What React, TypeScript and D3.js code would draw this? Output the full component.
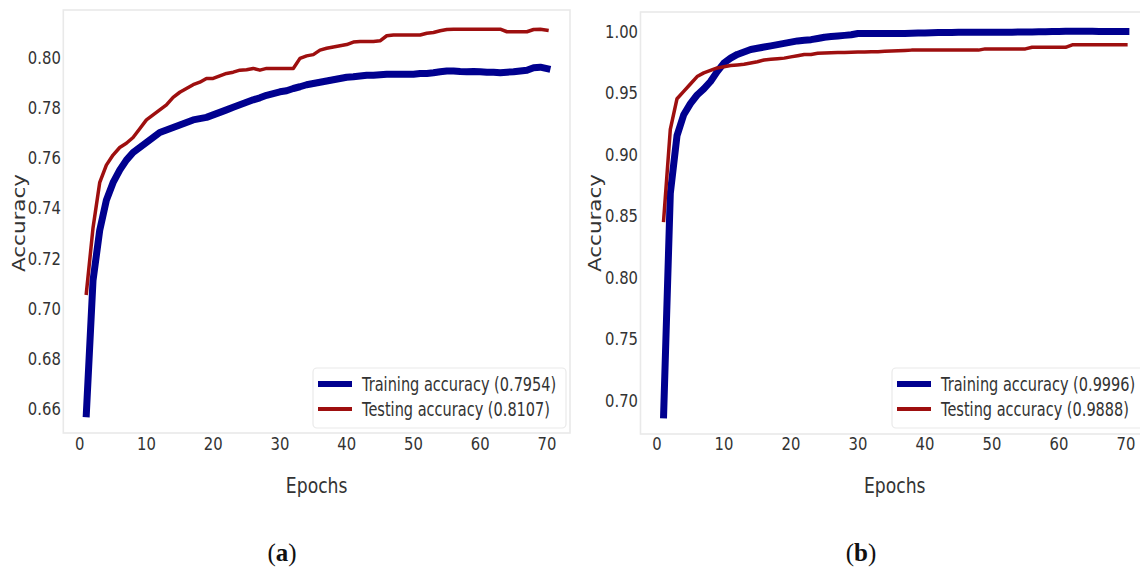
import React from "react";
import * as d3 from "d3";

// ---------- data ----------
const EPOCHS: number[] = d3.range(1, 71);

const TRAIN_A = [
  0.658, 0.711, 0.731, 0.743, 0.750, 0.755, 0.759, 0.762, 0.764, 0.766,
  0.768, 0.770, 0.771, 0.772, 0.773, 0.774, 0.775, 0.7755, 0.776, 0.777,
  0.778, 0.779, 0.780, 0.781, 0.782, 0.783, 0.7838, 0.7848, 0.7855, 0.7862,
  0.7866, 0.7875, 0.7882, 0.789, 0.7895, 0.790, 0.7905, 0.791, 0.7915, 0.792,
  0.7922, 0.7925, 0.7928, 0.7928, 0.793, 0.7932, 0.7932, 0.7932, 0.7932, 0.7932,
  0.7935, 0.7935, 0.7938, 0.7942, 0.7945, 0.7945, 0.7943, 0.7942, 0.7943, 0.7942,
  0.794, 0.794, 0.7938, 0.794, 0.7942, 0.7945, 0.7948, 0.7958, 0.796, 0.7954,
];

const TEST_A = [
  0.706, 0.732, 0.750, 0.757, 0.761, 0.764, 0.7657, 0.768, 0.7715, 0.775,
  0.777, 0.779, 0.781, 0.784, 0.786, 0.7875, 0.789, 0.790, 0.7915, 0.7915,
  0.7925, 0.7935, 0.794, 0.7948, 0.795, 0.7955, 0.7948, 0.7955, 0.7955, 0.7955,
  0.7955, 0.7955, 0.7995, 0.8005, 0.801, 0.8028, 0.8035, 0.804, 0.8045, 0.805,
  0.806, 0.8062, 0.8062, 0.8062, 0.8065, 0.8085, 0.8088, 0.8088, 0.8088, 0.8088,
  0.8088, 0.8095, 0.8098, 0.8105, 0.811, 0.8111, 0.8111, 0.8111, 0.8111, 0.8111,
  0.8111, 0.8111, 0.8111, 0.8101, 0.8101, 0.8101, 0.8101, 0.811, 0.8111, 0.8107,
];

const TRAIN_B = [
  0.688, 0.868, 0.915, 0.932, 0.941, 0.948, 0.953, 0.959, 0.967, 0.974,
  0.978, 0.981, 0.983, 0.985, 0.986, 0.987, 0.988, 0.989, 0.990, 0.991,
  0.992, 0.9925, 0.993, 0.994, 0.995, 0.9955, 0.996, 0.9965, 0.997, 0.998,
  0.998, 0.998, 0.998, 0.998, 0.998, 0.998, 0.998, 0.9982, 0.9985, 0.9985,
  0.9987, 0.9988, 0.9988, 0.9988, 0.999, 0.999, 0.999, 0.999, 0.999, 0.999,
  0.999, 0.999, 0.9991, 0.9992, 0.9993, 0.9993, 0.9994, 0.9995, 0.9996, 0.9997,
  0.9998, 0.9999, 0.9999, 0.9998, 0.9998, 0.9997, 0.9997, 0.9996, 0.9996, 0.9996,
];

const TEST_B = [
  0.846, 0.920, 0.945, 0.951, 0.957, 0.963, 0.966, 0.968, 0.970, 0.971,
  0.972, 0.9725, 0.973, 0.974, 0.975, 0.9765, 0.977, 0.9775, 0.978, 0.979,
  0.980, 0.981, 0.981, 0.982, 0.9822, 0.9824, 0.9825, 0.9825, 0.9828, 0.983,
  0.983, 0.9832, 0.9832, 0.9835, 0.9838, 0.984, 0.9842, 0.9845, 0.9845, 0.9845,
  0.9845, 0.9845, 0.9845, 0.9845, 0.9845, 0.9845, 0.9845, 0.9845, 0.9855, 0.9855,
  0.9855, 0.9855, 0.9855, 0.9855, 0.9855, 0.9868, 0.9868, 0.9868, 0.9868, 0.9868,
  0.9868, 0.9888, 0.9888, 0.9888, 0.9888, 0.9888, 0.9888, 0.9888, 0.9888, 0.9888,
];

const X_TICKS = [0, 10, 20, 30, 40, 50, 60, 70];
const Y_TICKS_A = [0.66, 0.68, 0.70, 0.72, 0.74, 0.76, 0.78, 0.80];
const Y_TICKS_B = [0.70, 0.75, 0.80, 0.85, 0.90, 0.95, 1.00];

const LEGEND_A = ["Training accuracy (0.7954)", "Testing accuracy (0.8107)"];
const LEGEND_B = ["Training accuracy (0.9996)", "Testing accuracy (0.9888)"];

const X_LABEL = "Epochs";
const Y_LABEL = "Accuracy";

// ---------- style ----------
const BLUE = "#00008f";
const RED = "#9e0f0f";
const TEXT = "#333333";
const FRAME = "#e9e9e9";
const FONT = "'DejaVu Sans', sans-serif";
const SQ = 0.8; // horizontal squeeze of the source image
const SQ_LEG = 0.765;

type PanelProps = {
  left: number;
  right: number;
  top: number;
  bottom: number;
  train: number[];
  test: number[];
  yTicks: number[];
  legend: string[];
  legendX: number;
  legendW: number;
  yLabelX: number;
  caption: string;
  captionX: number;
  fmt: (v: number) => string;
};

function Panel(p: PanelProps) {
  const n = EPOCHS.length;
  const span = EPOCHS[n - 1] - EPOCHS[0];
  const x = d3
    .scaleLinear()
    .domain([EPOCHS[0] - 0.05 * span, EPOCHS[n - 1] + 0.05 * span])
    .range([p.left, p.right]);
  const all = p.train.concat(p.test);
  const [lo, hi] = d3.extent(all) as [number, number];
  const pad = (hi - lo) * 0.05;
  const y = d3.scaleLinear().domain([lo - pad, hi + pad]).range([p.bottom, p.top]);

  const line = d3
    .line<number>()
    .x((_, i) => x(EPOCHS[i]))
    .y((d) => y(d));

  const midX = (p.left + p.right) / 2;
  const legTop = 368;
  const rows = [384, 409];

  return (
    <g>
      <rect
        x={p.left}
        y={p.top}
        width={p.right - p.left}
        height={p.bottom - p.top}
        fill="#fff"
        stroke={FRAME}
        strokeWidth={1.6}
      />
      {/* y tick labels */}
      {p.yTicks.map((t) => (
        <text
          key={"y" + t}
          transform={`translate(${p.left - 2.5},${y(t) + 6.5}) scale(${SQ},1)`}
          textAnchor="end"
          fontFamily={FONT}
          fontSize={18.5}
          fill={TEXT}
        >
          {p.fmt(t)}
        </text>
      ))}
      {/* x tick labels */}
      {X_TICKS.map((t) => (
        <text
          key={"x" + t}
          transform={`translate(${x(t)},${450}) scale(${SQ},1)`}
          textAnchor="middle"
          fontFamily={FONT}
          fontSize={18.5}
          fill={TEXT}
        >
          {t}
        </text>
      ))}
      {/* lines */}
      <path
        d={line(p.train) || ""}
        fill="none"
        stroke={BLUE}
        strokeWidth={7}
        strokeLinejoin="round"
        strokeLinecap="square"
      />
      <path
        d={line(p.test) || ""}
        fill="none"
        stroke={RED}
        strokeWidth={3.5}
        strokeLinejoin="round"
        strokeLinecap="square"
      />
      {/* legend */}
      <rect
        x={p.legendX}
        y={legTop}
        width={p.legendW}
        height={60}
        rx={4}
        fill="#fff"
        fillOpacity={0.9}
        stroke={FRAME}
        strokeWidth={1.2}
      />
      {[BLUE, RED].map((c, i) => (
        <g key={"lg" + i}>
          <line
            x1={p.legendX + 5}
            x2={p.legendX + 39}
            y1={rows[i]}
            y2={rows[i]}
            stroke={c}
            strokeWidth={i === 0 ? 6 : 4}
          />
          <text
            transform={`translate(${p.legendX + 49},${rows[i] + 7}) scale(${SQ_LEG},1)`}
            fontFamily={FONT}
            fontSize={19}
            fill={TEXT}
          >
            {p.legend[i]}
          </text>
        </g>
      ))}
      {/* axis labels */}
      <text
        transform={`translate(${midX},${493}) scale(${SQ},1)`}
        textAnchor="middle"
        fontFamily={FONT}
        fontSize={21.5}
        fill={TEXT}
      >
        {X_LABEL}
      </text>
      <text
        transform={`translate(${p.yLabelX},${223}) scale(${SQ},1) rotate(-90)`}
        textAnchor="middle"
        fontFamily={FONT}
        fontSize={21.5}
        fill={TEXT}
      >
        {Y_LABEL}
      </text>
      {/* caption */}
      <text
        x={p.captionX}
        y={561}
        textAnchor="middle"
        fontFamily="'Liberation Serif', 'DejaVu Serif', serif"
        fontSize={25}
        fill="#111"
      >
        (<tspan fontWeight="bold">{p.caption}</tspan>)
      </text>
    </g>
  );
}

export default function App() {
  const f2 = (v: number) => v.toFixed(2);
  return (
    <svg
      width={1140}
      height={574}
      style={{ position: "absolute", left: 0, top: 0, background: "#fff" }}
    >
      <rect x={0} y={0} width={1140} height={574} fill="#fff" />
      <Panel
        left={63.3}
        right={570}
        top={10}
        bottom={433}
        train={TRAIN_A}
        test={TEST_A}
        yTicks={Y_TICKS_A}
        legend={LEGEND_A}
        legendX={313}
        legendW={253}
        yLabelX={25}
        caption="a"
        captionX={282}
        fmt={f2}
      />
      <Panel
        left={640.5}
        right={1149}
        top={12}
        bottom={434}
        train={TRAIN_B}
        test={TEST_B}
        yTicks={Y_TICKS_B}
        legend={LEGEND_B}
        legendX={892}
        legendW={252}
        yLabelX={601}
        caption="b"
        captionX={861}
        fmt={f2}
      />
    </svg>
  );
}
